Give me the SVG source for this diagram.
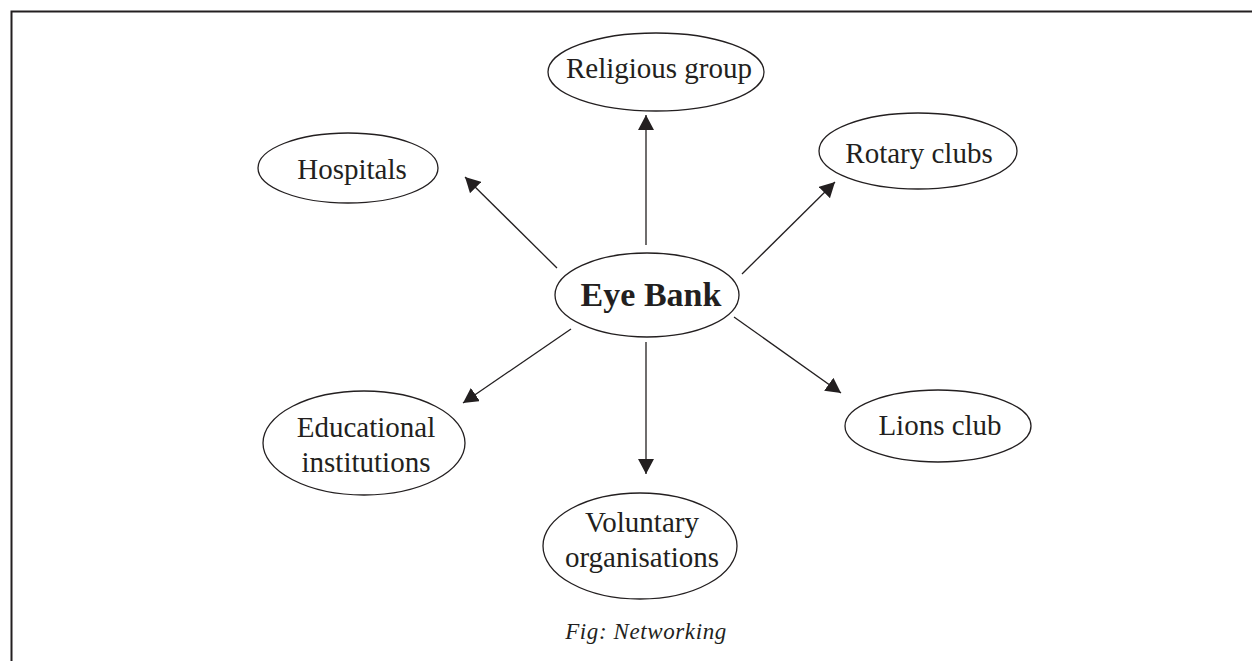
<svg xmlns="http://www.w3.org/2000/svg" width="1252" height="661" viewBox="0 0 1252 661">
<defs>
<style>
.n ellipse{fill:#fff;stroke:#231f20;stroke-width:1.3}
.n text{font-family:"Liberation Serif",serif;font-size:29px;fill:#231f20;text-anchor:middle}
.c line{stroke:#231f20;stroke-width:1.3}
</style>
<marker id="ah" viewBox="0 0 15 16" refX="15" refY="8" markerWidth="15" markerHeight="16" markerUnits="userSpaceOnUse" orient="auto">
<path d="M0,0 L15,8 L0,16 Z" fill="#231f20"/>
</marker>
</defs>
<rect width="1252" height="661" fill="#fff"/>
<path d="M11.5,661 V11.5 H1252" fill="none" stroke="#231f20" stroke-width="2"/>
<g class="c">
<line x1="646" y1="245" x2="646" y2="115" marker-end="url(#ah)"/>
<line x1="557" y1="268" x2="465" y2="177" marker-end="url(#ah)"/>
<line x1="742" y1="274" x2="835" y2="182" marker-end="url(#ah)"/>
<line x1="571" y1="329" x2="463" y2="403" marker-end="url(#ah)"/>
<line x1="646" y1="342" x2="646" y2="474" marker-end="url(#ah)"/>
<line x1="734" y1="317" x2="841" y2="393" marker-end="url(#ah)"/>
</g>
<g id="eyebank" class="n"><ellipse cx="647" cy="295" rx="92" ry="42"/><text x="651" y="306" style="font-weight:bold;font-size:34px">Eye Bank</text></g>
<g id="religious" class="n"><ellipse cx="656" cy="72" rx="108" ry="39"/><text x="659" y="78">Religious group</text></g>
<g id="hospitals" class="n"><ellipse cx="348" cy="168" rx="90" ry="35"/><text x="352" y="179">Hospitals</text></g>
<g id="rotary" class="n"><ellipse cx="918" cy="151" rx="99" ry="38"/><text x="919" y="163">Rotary clubs</text></g>
<g id="educational" class="n"><ellipse cx="364" cy="443" rx="101" ry="52"/><text x="366" y="437">Educational</text><text x="366" y="472">institutions</text></g>
<g id="voluntary" class="n"><ellipse cx="640" cy="546" rx="97" ry="53"/><text x="642" y="532">Voluntary</text><text x="642" y="567">organisations</text></g>
<g id="lions" class="n"><ellipse cx="938" cy="426" rx="93" ry="36"/><text x="940" y="435">Lions club</text></g>
<text x="646" y="639" style="font-family:'Liberation Serif',serif;font-style:italic;font-size:23px;fill:#231f20;text-anchor:middle;letter-spacing:0.6px">Fig: Networking</text>
</svg>
